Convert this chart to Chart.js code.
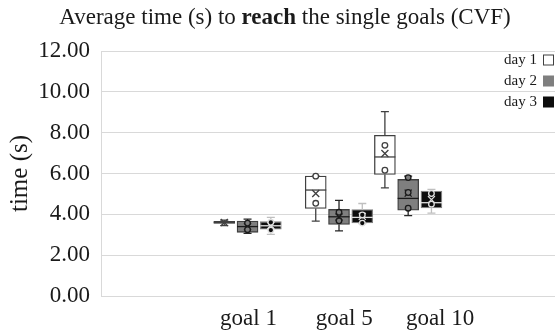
<!DOCTYPE html>
<html lang="en">
  <head>
    <meta charset="UTF-8" />
    <title>Average time to reach the single goals</title>
    <script src="https://cdn.jsdelivr.net/npm/chart.js"></script>
    <style>
      body {
        margin: 0;
        background-color: #fff;
      }
      #chart-container {
        width: 555px;
        height: 334px;
      }
    </style>
  </head>
  <body>
    <div id="chart-container">
      <canvas id="boxChart" width="555" height="334"></canvas>
    </div>
    <script>
      // data, indexed [day][goal]
      const goals = ["goal 1", "goal 5", "goal 10"];
      const days = ["day 1", "day 2", "day 3"];
      const whiskerLow = [
        [3.45, 3.67, 5.3],
        [3.07, 3.19, 3.94],
        [3.02, 3.55, 4.06],
      ];
      const quartile1 = [
        [3.55, 4.29, 5.95],
        [3.12, 3.5, 4.2],
        [3.27, 3.58, 4.31],
      ];
      const medians = [
        [3.6, 5.19, 6.81],
        [3.4, 3.88, 4.78],
        [3.44, 3.85, 4.57],
      ];
      const quartile3 = [
        [3.66, 5.87, 7.87],
        [3.67, 4.24, 5.71],
        [3.64, 4.23, 5.14],
      ];
      const whiskerHigh = [
        [3.72, 5.87, 9.03],
        [3.77, 4.68, 5.87],
        [3.85, 4.53, 5.22],
      ];
      const means = [
        [3.6, 5.02, 6.98],
        [3.4, 3.87, 5.04],
        [3.45, 3.9, 4.72],
      ];
      const innerPoints = [
        [[], [5.87, 4.54], [7.38, 6.16]],
        [[3.57, 3.25], [4.1, 3.68], [5.8, 5.07, 4.3]],
        [[3.61, 3.23], [3.97, 3.57], [5.02, 4.5]],
      ];
      const yTicks = [0, 2, 4, 6, 8, 10, 12];

      // layout of the boxes on the x axis
      const groupCenter = [0.99, 1.945, 2.667];
      const dayStep = 0.243;
      const boxFill = ["#ffffff", "#7f7f7f", "#0d0d0d"];
      const boxEdge = ["#404040", "#404040", "#7f7f7f"];
      const whiskerColor = ["#404040", "#262626", "#bfbfbf"];
      const markColor = ["#404040", "#1a1a1a", "#e0e0e0"];
      const serif = "'Liberation Serif', 'DejaVu Serif', serif";

      function boxX(di, gi) {
        return groupCenter[gi] + (di - 1) * dayStep;
      }

      const boxPlugin = {
        id: "boxParts",
        beforeDraw(chart) {
          const c = chart.ctx;
          c.save();
          c.fillStyle = "#fff";
          c.fillRect(0, 0, chart.width, chart.height);
          c.restore();
        },
        afterDatasetsDraw(chart) {
          const c = chart.ctx;
          const xs = chart.scales.x;
          const ys = chart.scales.y;
          c.save();
          days.forEach((d, di) => {
            goals.forEach((g, gi) => {
              const cx = xs.getPixelForValue(boxX(di, gi));
              const half = 10.5;
              c.lineWidth = 1.3;
              // whiskers
              c.strokeStyle = whiskerColor[di];
              const yq1 = ys.getPixelForValue(quartile1[di][gi]);
              const yq3 = ys.getPixelForValue(quartile3[di][gi]);
              const ylo = ys.getPixelForValue(whiskerLow[di][gi]);
              const yhi = ys.getPixelForValue(whiskerHigh[di][gi]);
              c.beginPath();
              c.moveTo(cx, yq3);
              c.lineTo(cx, yhi);
              c.moveTo(cx - 4, yhi);
              c.lineTo(cx + 4, yhi);
              c.moveTo(cx, yq1);
              c.lineTo(cx, ylo);
              c.moveTo(cx - 4, ylo);
              c.lineTo(cx + 4, ylo);
              c.stroke();
              // median
              c.strokeStyle = markColor[di];
              const ym = ys.getPixelForValue(medians[di][gi]);
              c.beginPath();
              c.moveTo(cx - half, ym);
              c.lineTo(cx + half, ym);
              c.stroke();
              // mean cross
              const ya = ys.getPixelForValue(means[di][gi]);
              c.beginPath();
              c.moveTo(cx - 3.5, ya - 3.5);
              c.lineTo(cx + 3.5, ya + 3.5);
              c.moveTo(cx + 3.5, ya - 3.5);
              c.lineTo(cx - 3.5, ya + 3.5);
              c.stroke();
              // inner points
              innerPoints[di][gi].forEach((v) => {
                const yp = ys.getPixelForValue(v);
                c.beginPath();
                c.arc(cx, yp, 2.8, 0, Math.PI * 2);
                c.fillStyle = boxFill[di];
                c.fill();
                c.stroke();
              });
            });
          });
          c.restore();
        },
        afterDraw(chart) {
          const c = chart.ctx;
          c.save();
          // title with bold word
          const parts = [
            ["Average time (s) to ", "normal"],
            ["reach", "bold"],
            [" the single goals (CVF)", "normal"],
          ];
          let total = 0;
          parts.forEach((p) => {
            c.font = p[1] + " 23px " + serif;
            total += c.measureText(p[0]).width;
          });
          let x = 285 - total / 2;
          c.fillStyle = "#1a1a1a";
          c.textBaseline = "alphabetic";
          c.textAlign = "left";
          parts.forEach((p) => {
            c.font = p[1] + " 23px " + serif;
            c.fillText(p[0], x, 24);
            x += c.measureText(p[0]).width;
          });
          // legend, text left of the box
          c.font = "15px " + serif;
          c.textAlign = "right";
          c.textBaseline = "middle";
          days.forEach((d, di) => {
            const ly = 60 + di * 21;
            c.fillStyle = "#1a1a1a";
            c.fillText(d, 537, ly);
            c.fillStyle = boxFill[di];
            c.fillRect(543.5, ly - 5, 10, 10);
            c.strokeStyle = di === 0 ? "#404040" : boxFill[di];
            c.lineWidth = 1;
            c.strokeRect(543.5, ly - 5, 10, 10);
          });
          c.restore();
        },
      };

      const ctx = document.getElementById("boxChart").getContext("2d");
      const boxChart = new Chart(ctx, {
        type: "bar",
        data: {
          datasets: days.map((d, di) => ({
            label: d,
            data: goals.map((g, gi) => ({
              x: boxX(di, gi),
              y: [quartile1[di][gi], quartile3[di][gi]],
            })),
            backgroundColor: boxFill[di],
            borderColor: boxEdge[di],
            borderWidth: 1.3,
            borderSkipped: false,
            barThickness: 21,
            grouped: false,
          })),
        },
        options: {
          responsive: false,
          animation: false,
          devicePixelRatio: 1,
          layout: { padding: { top: 51, right: 0, left: 0, bottom: 0 } },
          plugins: {
            legend: { display: false },
            title: { display: false },
            tooltip: { enabled: false },
          },
          scales: {
            x: {
              type: "linear",
              offset: false,
              min: -0.54,
              max: 4.2,
              grid: { display: false, drawTicks: false, offset: false },
              border: { color: "#d9d9d9" },
              afterBuildTicks(scale) {
                scale.ticks = goals.map((g, i) => ({ value: i + 1 }));
              },
              afterFit(scale) {
                scale.height = 38;
              },
              ticks: {
                padding: 9,
                color: "#1a1a1a",
                font: { family: serif, size: 23 },
                callback: (v) => goals[Math.round(v) - 1],
              },
            },
            y: {
              min: 0,
              max: 12,
              afterBuildTicks(scale) {
                scale.ticks = yTicks.map((v) => ({ value: v }));
              },
              afterFit(scale) {
                scale.width = 101;
              },
              grid: { color: "#d9d9d9", drawTicks: false },
              border: { color: "#d9d9d9" },
              ticks: {
                padding: 11,
                color: "#1a1a1a",
                font: { family: serif, size: 23 },
                callback: (v) => v.toFixed(2),
              },
              title: {
                display: true,
                text: "time (s)",
                color: "#1a1a1a",
                font: { family: serif, size: 25 },
                padding: { top: 5, bottom: 0 },
              },
            },
          },
        },
        plugins: [boxPlugin],
      });
    </script>
  </body>
</html>
